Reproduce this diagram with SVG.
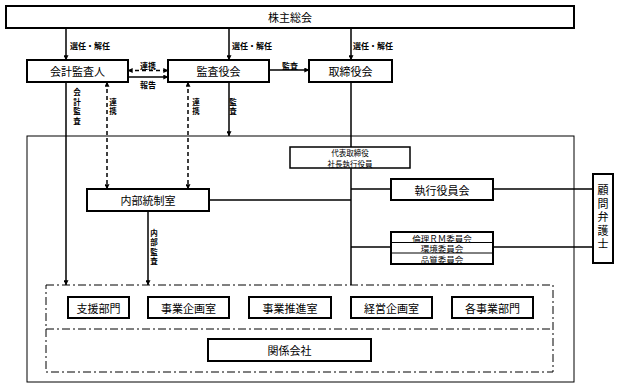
<svg xmlns="http://www.w3.org/2000/svg" width="619" height="388" viewBox="0 0 619 388">
<defs>
<marker id="ah" viewBox="0 0 8 8" refX="7.5" refY="4" markerWidth="5" markerHeight="5" orient="auto-start-reverse" markerUnits="userSpaceOnUse">
<path d="M0,0 L8,4 L0,8 Z" fill="#000"/>
</marker>
</defs>
<style>
text{font-family:"Noto Sans CJK JP","Noto Sans",sans-serif;fill:#000}
.box{fill:#fff;stroke:#000;stroke-width:2}
.thin{fill:#fff;stroke:#000;stroke-width:1.5}
.lbl{font-size:11px;text-anchor:middle;dominant-baseline:central}
.s9{font-size:8.5px;text-anchor:middle;dominant-baseline:central}
.s8{font-size:7.5px;text-anchor:middle;dominant-baseline:central}
.sm{font-size:8px;font-weight:bold;dominant-baseline:central}
.vs{font-size:7.5px;font-weight:bold;text-anchor:middle;writing-mode:vertical-rl;letter-spacing:2px}
.vl{font-size:11px;text-anchor:middle;writing-mode:vertical-rl;letter-spacing:2.5px}
.ln{stroke:#000;stroke-width:1.5;fill:none}
.dash{stroke:#000;stroke-width:1.5;fill:none;stroke-dasharray:4,3}
.dd{stroke:#000;stroke-width:1;fill:none;stroke-dasharray:8,3,2,3}
.arr{marker-end:url(#ah)}
.both{marker-start:url(#ah);marker-end:url(#ah)}
</style>
<rect x="0" y="0" width="619" height="388" fill="#fff"/>

<g id="outer">
<rect x="27" y="136" width="547" height="246" fill="none" stroke="#000" stroke-width="1"/>
<rect x="46" y="285" width="507" height="87" class="dd"/>
<line x1="46" y1="329" x2="553" y2="329" class="dd"/>
</g>

<g id="connectors">
<line x1="66" y1="28" x2="66" y2="60" class="ln arr"/>
<line x1="229" y1="28" x2="229" y2="60" class="ln arr"/>
<line x1="351" y1="28" x2="351" y2="60" class="ln arr"/>
<line x1="128" y1="70.5" x2="168" y2="70.5" class="dash both"/>
<line x1="128" y1="77" x2="168" y2="77" class="ln arr"/>
<line x1="269" y1="70" x2="309" y2="70" class="ln arr"/>
<line x1="66" y1="82" x2="66" y2="285" class="ln arr"/>
<line x1="107" y1="82" x2="107" y2="189" class="dash both"/>
<line x1="188" y1="82" x2="188" y2="189" class="dash both"/>
<line x1="229" y1="82" x2="229" y2="136" class="ln arr"/>
<line x1="351" y1="82" x2="351" y2="285" class="ln"/>
<line x1="209" y1="200" x2="351" y2="200" class="ln"/>
<line x1="351" y1="189" x2="391" y2="189" class="ln" stroke-width="1"/>
<line x1="493" y1="189" x2="593" y2="189" class="ln"/>
<line x1="351" y1="247" x2="391" y2="247" class="ln"/>
<line x1="493" y1="247" x2="593" y2="247" class="ln"/>
<line x1="148" y1="211" x2="148" y2="285" class="ln arr"/>
<text x="70" y="45" class="sm">選任・解任</text>
<text x="232" y="45" class="sm">選任・解任</text>
<text x="353" y="45" class="sm">選任・解任</text>
<text x="148" y="65" class="sm" text-anchor="middle">連携</text>
<text x="148" y="84" class="sm" text-anchor="middle">報告</text>
<text x="290" y="65" class="sm" text-anchor="middle">監査</text>
<text x="77" y="107.5" class="vs">会計監査</text>
<text x="113" y="107.5" class="vs">連携</text>
<text x="196" y="107.5" class="vs">連携</text>
<text x="233" y="107.5" class="vs">監査</text>
<text x="154" y="248" class="vs">内部監査</text>
</g>

<g id="shareholders">
<rect x="6" y="6" width="568" height="22" class="box"/>
<text x="290" y="17" class="lbl">株主総会</text>
</g>
<g id="auditor">
<rect x="27" y="60" width="101" height="22" class="box"/>
<text x="77.5" y="71" class="lbl">会計監査人</text>
</g>
<g id="audit-board">
<rect x="168" y="60" width="101" height="22" class="box"/>
<text x="218.5" y="71" class="lbl">監査役会</text>
</g>
<g id="board">
<rect x="309" y="60" width="83" height="22" class="box"/>
<text x="350.5" y="71" class="lbl">取締役会</text>
</g>
<g id="president">
<rect x="290" y="147" width="120" height="21" class="thin"/>
<text class="s8" font-size="7.5"><tspan x="350" y="152">代表取締役</tspan><tspan x="350" y="163">社長執行役員</tspan></text>
</g>
<g id="internal-control">
<rect x="87" y="189" width="122" height="22" class="box"/>
<text x="148" y="200" class="lbl">内部統制室</text>
</g>
<g id="exec-committee">
<rect x="391" y="179" width="102" height="21" class="box"/>
<text x="442" y="189.5" class="lbl">執行役員会</text>
</g>
<g id="committees">
<rect x="391" y="232" width="102" height="32" class="box"/>
<line x1="391" y1="242.5" x2="493" y2="242.5" stroke="#000" stroke-width="1"/>
<line x1="391" y1="253" x2="493" y2="253" stroke="#000" stroke-width="1"/>
<text x="442" y="237.5" class="s9">倫理ＲＭ委員会</text>
<text x="442" y="248" class="s9">環境委員会</text>
<text x="442" y="258.5" class="s9">品質委員会</text>
</g>
<g id="counsel">
<rect x="593" y="174" width="20" height="89" class="box"/>
<text x="603" y="218.5" class="vl">顧問弁護士</text>
</g>
<g id="dept1">
<rect x="68" y="297" width="61" height="21" class="box"/>
<text x="98.5" y="307.5" class="lbl">支援部門</text>
</g>
<g id="dept2">
<rect x="148" y="297" width="81" height="21" class="box"/>
<text x="188.5" y="307.5" class="lbl">事業企画室</text>
</g>
<g id="dept3">
<rect x="249" y="297" width="82" height="21" class="box"/>
<text x="290" y="307.5" class="lbl">事業推進室</text>
</g>
<g id="dept4">
<rect x="351" y="297" width="81" height="21" class="box"/>
<text x="391.5" y="307.5" class="lbl">経営企画室</text>
</g>
<g id="dept5">
<rect x="452" y="297" width="81" height="21" class="box"/>
<text x="492.5" y="307.5" class="lbl">各事業部門</text>
</g>
<g id="affiliates">
<rect x="208" y="339" width="163" height="22" class="box"/>
<text x="289.5" y="350" class="lbl">関係会社</text>
</g>
</svg>
